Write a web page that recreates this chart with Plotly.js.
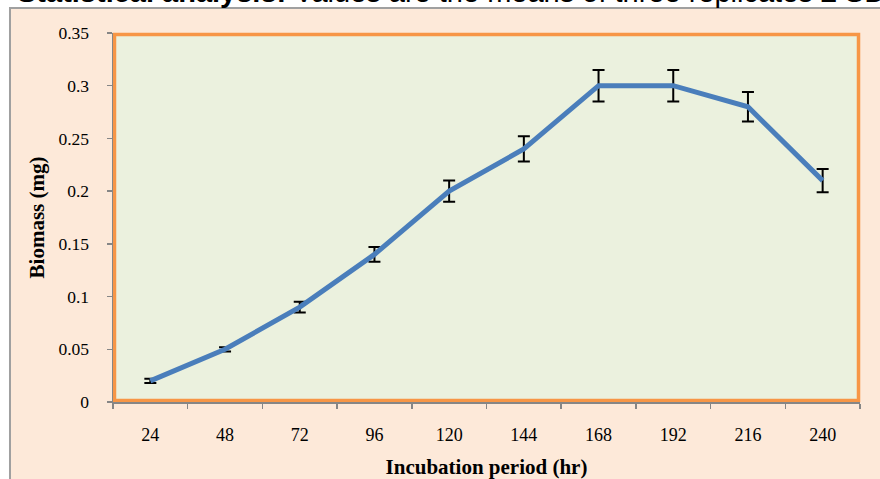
<!DOCTYPE html>
<html>
<head>
<meta charset="utf-8">
<script src="https://cdn.plot.ly/plotly-3.0.1.min.js"></script>
<style>html,body{margin:0;padding:0;background:#fff;}#chart{width:880px;height:479px;}</style>
</head>
<body>
<div id="chart"></div>
<script>
const categories = ["24","48","72","96","120","144","168","192","216","240"];
const biomass = [0.02,0.05,0.09,0.14,0.20,0.24,0.30,0.30,0.28,0.21];
const sd = [0.002,0.002,0.005,0.007,0.010,0.012,0.015,0.015,0.014,0.011];
const yTicks = [0,0.05,0.1,0.15,0.2,0.25,0.3,0.35];
const yTickText = ["0","0.05","0.1","0.15","0.2","0.25","0.3","0.35"];

const trace = {
  x: categories, y: biomass, type: 'scatter', mode: 'lines',
  line: {color: '#4A7EBB', width: 5},
  error_y: {type: 'data', array: sd, visible: true, color: '#000000', thickness: 2, width: 6},
  hoverinfo: 'skip'
};

const serif = 'Liberation Serif, Times New Roman, serif';
const layout = {
  width: 880, height: 479,
  margin: {l: 113, r: 20, t: 33, b: 77},
  paper_bgcolor: '#ffffff',
  plot_bgcolor: 'rgba(0,0,0,0)',
  showlegend: false,
  xaxis: {
    type: 'category', range: [-0.5, 9.5],
    showgrid: false, zeroline: false,
    showline: true, linecolor: '#868686', linewidth: 1.5,
    ticks: 'outside', tickson: 'boundaries', ticklen: 5, tickcolor: '#868686', tickwidth: 1.5,
    ticklabelstandoff: 16,
    tickfont: {family: serif, size: 18, color: '#000'},
    title: {text: 'Incubation period (hr)', font: {family: serif, size: 21, color: '#000', weight: 'bold'}, standoff: 16}
  },
  yaxis: {
    range: [0, 0.35], tickvals: yTicks, ticktext: yTickText,
    showgrid: false, zeroline: false,
    showline: true, linecolor: '#868686', linewidth: 1.5,
    ticks: 'outside', ticklen: 5, tickcolor: '#868686', tickwidth: 1.5,
    ticklabelstandoff: 14,
    tickfont: {family: serif, size: 17.5, color: '#000'},
    title: {text: 'Biomass (mg)', font: {family: serif, size: 21, color: '#000', weight: 'bold'}, standoff: 8}
  },
  shapes: [
    {type: 'rect', xref: 'paper', yref: 'paper', layer: 'below',
     x0: -0.1379, x1: 1.06, y0: -0.3, y1: 1.0678,
     fillcolor: '#FDE9D9', line: {color: '#A0A0A0', width: 2}},
    {type: 'rect', xref: 'paper', yref: 'paper', layer: 'below',
     x0: 0.002, x1: 0.998, y0: 0.004, y1: 0.996,
     fillcolor: '#EBF1DE', line: {color: '#F79646', width: 3.5}}
  ],
  annotations: [
    {xref: 'paper', yref: 'paper', x: -0.1312, y: 1.0623, xanchor: 'left', yanchor: 'bottom',
     showarrow: false, align: 'left',
     text: '<b>Statistical analysis:</b> Values are the means of three replicates ± SD',
     font: {family: 'Liberation Sans, Arial, sans-serif', size: 29, color: '#000'}}
  ]
};

Plotly.newPlot('chart', [trace], layout, {displayModeBar: false, staticPlot: true});
</script>
</body>
</html>
